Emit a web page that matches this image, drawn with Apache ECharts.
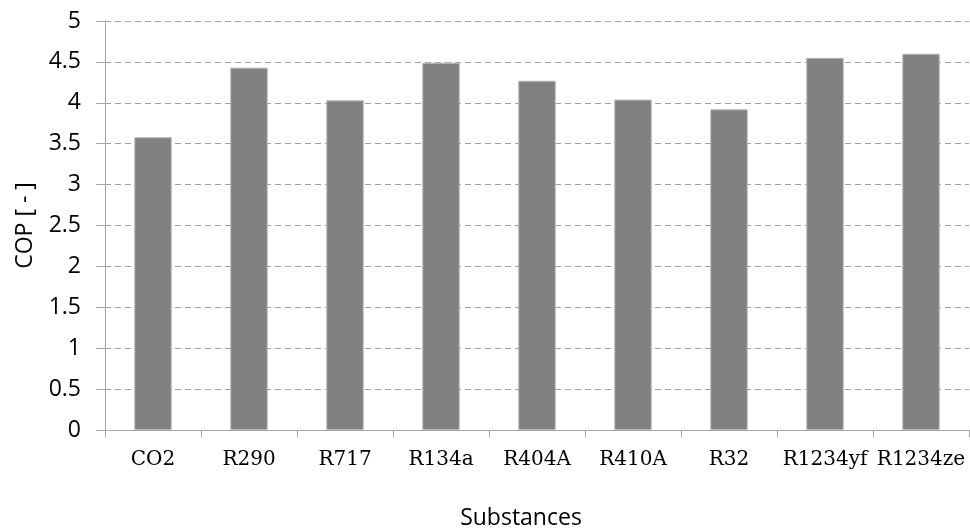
<!DOCTYPE html>
<html>
<head>
<meta charset="utf-8">
<script src="https://cdn.jsdelivr.net/npm/echarts@6/dist/echarts.min.js"></script>
<style>html,body{margin:0;padding:0;background:#fff;}#c{width:970px;height:531px;}</style>
</head>
<body>
<div id="c"></div>
<script>
var categories = ['CO2', 'R290', 'R717', 'R134a', 'R404A', 'R410A', 'R32', 'R1234yf', 'R1234ze'];
var copValues = [3.58, 4.43, 4.03, 4.49, 4.27, 4.04, 3.92, 4.55, 4.60];
var yTicks = [0, 0.5, 1, 1.5, 2, 2.5, 3, 3.5, 4, 4.5, 5];

var chart = echarts.init(document.getElementById('c'));
chart.setOption({
  animation: false,
  grid: { left: 105, right: 1, top: 21, bottom: 101, outerBoundsMode: 'none', containLabel: false },
  xAxis: {
    type: 'category',
    data: categories,
    name: 'Substances',
    nameLocation: 'middle',
    nameGap: 77,
    nameTextStyle: { fontFamily: 'Open Sans', fontSize: 23, color: '#000', padding: [0, 32, 0, 0] },
    axisLine: { lineStyle: { color: '#a6a6a6', width: 1 } },
    axisTick: { show: true, length: 7, lineStyle: { color: '#a6a6a6' } },
    axisLabel: { fontFamily: 'DejaVu Serif', fontSize: 20, color: '#000', margin: 20, interval: 0 },
    splitLine: { show: false }
  },
  yAxis: {
    type: 'value',
    min: 0, max: 5, interval: 0.5,
    name: 'COP [ - ]',
    nameLocation: 'middle',
    nameGap: 68,
    nameTextStyle: { fontFamily: 'Open Sans', fontSize: 23, color: '#000' },
    axisLine: { show: true, lineStyle: { color: '#a6a6a6', width: 1 } },
    axisTick: { show: true, length: 9, lineStyle: { color: '#a6a6a6' } },
    axisLabel: {
      fontFamily: 'Open Sans', fontSize: 23, color: '#000', margin: 24,
      formatter: function (v) { return yTicks.indexOf(v) >= 0 ? String(v) : ''; }
    },
    splitLine: { show: true, lineStyle: { color: '#a0a0a0', type: [6, 4], width: 1 } }
  },
  series: [{
    type: 'bar',
    data: copValues,
    barWidth: '39%',
    itemStyle: { color: '#808080', borderColor: '#b8b8b8', borderWidth: 1 }
  }]
});
</script>
</body>
</html>
